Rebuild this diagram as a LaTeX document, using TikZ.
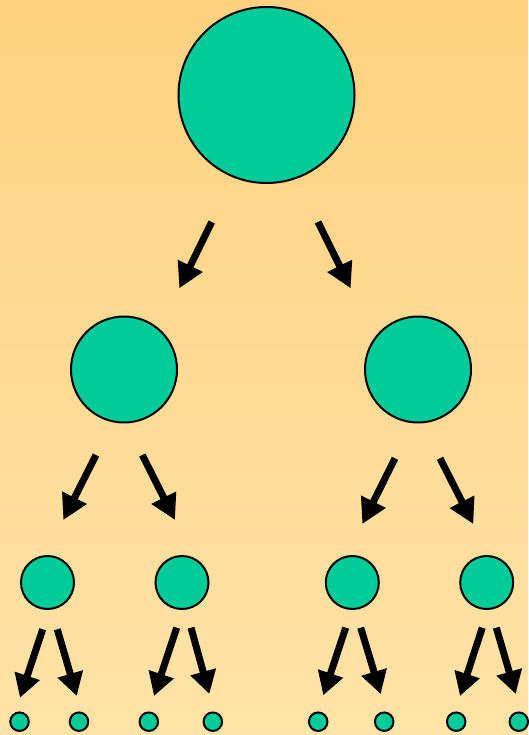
\documentclass[tikz,border=0pt]{standalone}
\usetikzlibrary{arrows.meta}
\definecolor{bgtop}{RGB}{255,209,128}
\definecolor{bgbot}{RGB}{255,227,168}
\definecolor{ball}{RGB}{0,204,153}
\tikzset{
  ball/.style={circle, draw=black, line width=2pt, fill=ball, inner sep=0pt, minimum size=#1},
  bigarrow/.style={line width=7pt, -{Triangle[length=25pt,width=26pt]}},
  smallarrow/.style={line width=7pt, -{Triangle[length=23pt,width=25pt]}}
}
\begin{document}
\begin{tikzpicture}[x=1pt,y=-1pt]
\useasboundingbox (0,0) rectangle (528,735);
\shade[top color=bgtop, bottom color=bgbot] (0,0) rectangle (528,735);
% circles
\node[ball=176pt] (n0) at (266.5,95) {};
\node[ball=106pt] (n1) at (124,369.5) {};
\node[ball=106pt] (n2) at (418,369.5) {};
\node[ball=53pt] (n11) at (47.5,582.5) {};
\node[ball=53pt] (n12) at (182,582.5) {};
\node[ball=53pt] (n21) at (352.3,582.5) {};
\node[ball=53pt] (n22) at (486.7,582.5) {};
\node[ball=18.5pt] (l1) at (19.5,721.7) {};
\node[ball=18.5pt] (l2) at (79,721.7) {};
\node[ball=18.5pt] (l3) at (148.8,721.7) {};
\node[ball=18.5pt] (l4) at (212.8,721.7) {};
\node[ball=18.5pt] (l5) at (318.2,721.7) {};
\node[ball=18.5pt] (l6) at (384.2,721.7) {};
\node[ball=18.5pt] (l7) at (456.2,721.7) {};
\node[ball=18.5pt] (l8) at (518.8,721.7) {};
% arrow ends
\coordinate (a0s) at (211.7,222); \coordinate (a0e) at (179.3,288.3);
\coordinate (b0s) at (318,222);   \coordinate (b0e) at (350.7,288.3);
\coordinate (a1s) at (96,455);    \coordinate (a1e) at (63.3,520);
\coordinate (b1s) at (142.3,455); \coordinate (b1e) at (175,520);
\coordinate (a2s) at (395,458.3); \coordinate (a2e) at (362.3,524);
\coordinate (b2s) at (440,458.3); \coordinate (b2e) at (473.3,524);
\coordinate (c1s) at (42.7,629.3); \coordinate (c1e) at (20,697.7);
\coordinate (c2s) at (57.3,629.3); \coordinate (c2e) at (76.7,696);
\coordinate (c3s) at (176.7,627.7); \coordinate (c3e) at (154,696);
\coordinate (c4s) at (191,627.7); \coordinate (c4e) at (209.3,694);
\coordinate (c5s) at (345.7,627.7); \coordinate (c5e) at (323.3,695.3);
\coordinate (c6s) at (360.7,627.7); \coordinate (c6e) at (380.7,694);
\coordinate (c7s) at (482.3,627.7); \coordinate (c7e) at (460,696);
\coordinate (c8s) at (496.3,627.7); \coordinate (c8e) at (515.7,694);
\foreach \p in {a0,b0,a1,b1,a2,b2}{\draw[bigarrow] (\p s) -- (\p e);}
\foreach \p in {c1,c2,c3,c4,c5,c6,c7,c8}{\draw[smallarrow] (\p s) -- (\p e);}
\end{tikzpicture}
\end{document}
